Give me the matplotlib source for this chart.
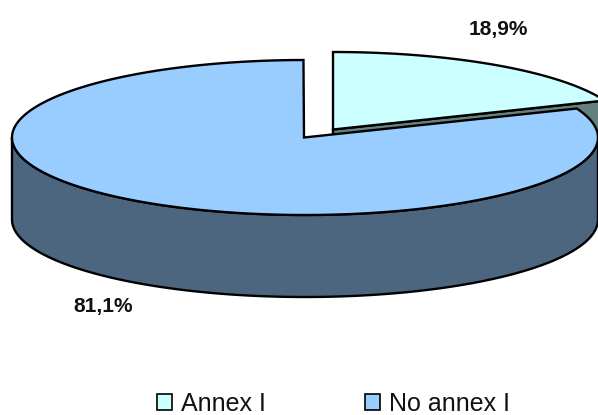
import numpy as np
import matplotlib.pyplot as plt
from matplotlib.patches import Polygon, Patch

labels = ["Annex I", "No annex I"]
shares = [18.9, 81.1]
share_text = ["18,9%", "81,1%"]
colors_top = ["#CCFFFF", "#99CCFF"]
colors_side = ["#668080", "#4D6680"]

plt.rcParams["font.family"] = ["Liberation Sans", "DejaVu Sans"]

# pie geometry in pixels
cx, cy = 305, 137.5
rx, ry = 293, 77.5
depth = 82
shift_x, shift_y = 29, -8
lw = 1.7


def rim(a0, a1, dx=0, dy=0):
    # angles clockwise from the top, in degrees
    t = np.radians(np.linspace(a0, a1, 200))
    return np.column_stack([cx + dx + rx * np.sin(t), cy + dy - ry * np.cos(t)])


fig = plt.figure(figsize=(5.98, 4.15), dpi=100)
ax = fig.add_axes([0, 0, 1, 1])
ax.set_xlim(0, 598)
ax.set_ylim(415, 0)
ax.axis("off")

split = shares[0] / sum(shares) * 360

# small slice, pulled out
apex = np.array([[cx - 1 + shift_x, cy + shift_y]])
edge = rim(0, split, shift_x - 1, shift_y)
radial = np.vstack([apex, edge[-1:]])
side = np.vstack([radial, radial[::-1] + [0, depth]])
ax.add_patch(Polygon(side, fc=colors_side[0], ec="black", lw=lw))
outer = rim(split, 90, shift_x - 1, shift_y)
ax.add_patch(Polygon(np.vstack([outer, outer[::-1] + [0, depth]]),
                     fc=colors_side[0], ec="black", lw=lw))
ax.add_patch(Polygon(np.vstack([apex, edge]), fc=colors_top[0], ec="black", lw=lw))

# big slice
front = rim(90, 270)
ax.add_patch(Polygon(np.vstack([front, front[::-1] + [0, depth]]),
                     fc=colors_side[1], ec="black", lw=lw))
top = rim(split, 359.7)
ax.add_patch(Polygon(np.vstack([[[cx - 1, cy]], top]), fc=colors_top[1], ec="black", lw=lw))

ax.text(498, 29.5, share_text[0], fontsize=15, fontweight="bold",
        ha="center", va="center", color="#111111")
ax.text(103, 306.5, share_text[1], fontsize=15, fontweight="bold",
        ha="center", va="center", color="#111111")

handles = [Patch(fc=c, ec="black", lw=1.2) for c in colors_top]
ax.legend(handles, labels, ncol=2, frameon=False, fontsize=18,
          loc="center", bbox_to_anchor=(333.5 / 598, 1 - 403.5 / 415),
          handlelength=0.62, handleheight=0.62, handletextpad=0.35,
          columnspacing=3.95, borderpad=0, labelcolor="#111111")

fig.savefig("out.png", dpi=100)
